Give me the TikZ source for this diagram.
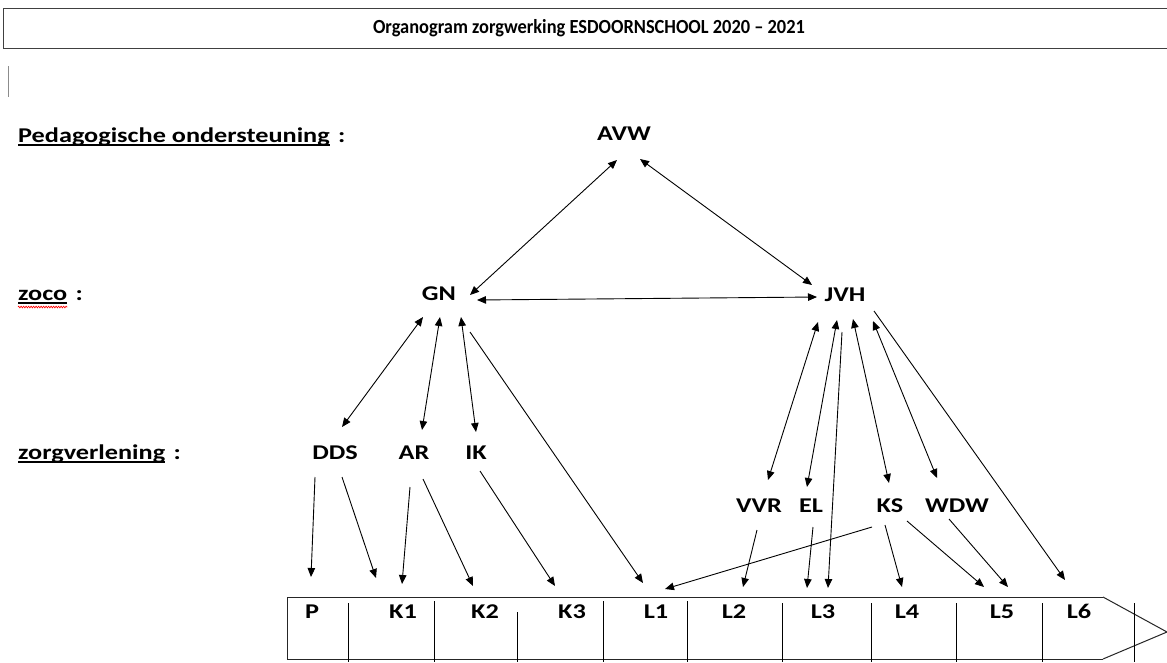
\documentclass[tikz,border=0pt]{standalone}
\usepackage{fontspec}
\setmainfont{Carlito}
\newfontfamily\lblfont[FakeStretch=1.25]{Carlito}
\newfontfamily\ttlfont[FakeStretch=0.92]{Carlito}
\usetikzlibrary{arrows.meta,calc,decorations.pathmorphing}
\begin{document}
\begin{tikzpicture}[x=1pt,y=-1pt,
  lbl/.style={font=\lblfont\fontsize{21}{24}\selectfont\bfseries, inner sep=0pt},
  who/.style={lbl, text height=13.5pt, text depth=0pt},
  ttl/.style={font=\ttlfont\fontsize{20}{24}\selectfont\bfseries, inner sep=0pt},
  con/.style={line width=0.9pt, -{Triangle[length=9pt,width=7.5pt]}},
  bicon/.style={line width=0.9pt, {Triangle[length=9pt,width=7.5pt]}-{Triangle[length=9pt,width=7.5pt]}},
  uline/.style={line width=1.1pt},
  bar/.style={line width=1pt, draw=black!85},
]
\useasboundingbox (0,0) rectangle (1167,662);
\fill[white] (0,0) rectangle (1167,662);

% title box
\draw[line width=1pt, draw=black!75] (3,8) rectangle (1180,48);
\node[ttl] (title) at (589,28) {Organogram zorgwerking ESDOORNSCHOOL 2020 – 2021};
% cursor
\draw[black!45, line width=0.8pt] (8,66) -- (8,97);

% left labels
\node[lbl, anchor=base west] (ped) at (18,142) {Pedagogische ondersteuning};
\node[lbl, anchor=base west] (pedc) at ($(ped.base east)+(8,0)$) {:};
\draw[uline] ($(ped.base west)+(0,3)$) -- ($(ped.base east)+(0,3)$);
\node[lbl, anchor=base west] (zoco) at (18,300) {zoco};
\node[lbl, anchor=base west] (zococ) at ($(zoco.base east)+(8,0)$) {:};
\draw[uline] ($(zoco.base west)+(0,3)$) -- ($(zoco.base east)+(0,3)$);
\draw[red, line width=0.6pt, decorate, decoration={zigzag, segment length=2.5pt, amplitude=0.9pt}]
  ($(zoco.base west)+(0,7)$) -- ($(zoco.base east)+(0,7)$);
\node[lbl, anchor=base west] (zv) at (18,459) {zorgverlening};
\node[lbl, anchor=base west] (zvc) at ($(zv.base east)+(8,0)$) {:};
\draw[uline] ($(zv.base west)+(0,3)$) -- ($(zv.base east)+(0,3)$);

% people
\node[who] (AVW) at (624,134) {AVW};
\node[who] (GN) at (439,294) {GN};
\node[who] (JVH) at (845,295) {JVH};
\node[who] (DDS) at (335,453) {DDS};
\node[who] (AR) at (414,453) {AR};
\node[who] (IK) at (476,453) {IK};
\node[who] (VVR) at (759,506) {VVR};
\node[who] (EL) at (811,506) {EL};
\node[who] (KS) at (890,506) {KS};
\node[who] (WDW) at (957,506) {WDW};

% bar
\draw[bar] (1103,597) -- (287,597) -- (287,659) -- (1103,659);
\draw[bar] (1103,597) -- (1167,632) -- (1103,659);
\foreach \x/\t in {348/603,434/601,517/612,603/601,687/601,782/603,871/603,956/603,1042/603,1134/603}
  \draw[line width=0.9pt] (\x,\t) -- (\x,662);

\node[who] (P) at (312,612) {P};
\node[who] (K1) at (403,612) {K1};
\node[who] (K2) at (485,612) {K2};
\node[who] (K3) at (572,612) {K3};
\node[who] (L1) at (656,612) {L1};
\node[who] (L2) at (734,612) {L2};
\node[who] (L3) at (823,612) {L3};
\node[who] (L4) at (907,612) {L4};
\node[who] (L5) at (1002,612) {L5};
\node[who] (L6) at (1079,612) {L6};

% connectors
\draw[bicon] ($(AVW)+(-7,26)$) -- ($(GN)+(31,1)$);
\draw[bicon] ($(AVW)+(16,25)$) -- ($(JVH)+(-33,-10)$);
\draw[bicon] ($(GN)+(38,6)$) -- ($(JVH)+(-28,2)$);
\draw[bicon] ($(GN)+(-16,23)$) -- ($(DDS)+(7,-26)$);
\draw[bicon] ($(GN)+(1,23)$) -- ($(AR)+(8,-23)$);
\draw[bicon] ($(GN)+(22,23)$) -- ($(IK)+(0,-21)$);
\draw[con] ($(GN)+(31,38)$) -- ($(L1)+(-13,-29)$);
\draw[bicon] ($(JVH)+(-27,27)$) -- ($(VVR)+(9,-26)$);
\draw[bicon] ($(JVH)+(-8,25)$) -- ($(EL)+(-4,-19)$);
\draw[bicon] ($(JVH)+(8,24)$) -- ($(KS)+(-1,-23)$);
\draw[bicon] ($(JVH)+(28,26)$) -- ($(WDW)+(-20,-28)$);
\draw[con] ($(JVH)+(-3,37)$) -- ($(L3)+(5,-24)$);
\draw[con] ($(JVH)+(29,16)$) -- ($(L6)+(-14,-32)$);
\draw[con] ($(DDS)+(-20,24)$) -- ($(P)+(-1,-35)$);
\draw[con] ($(DDS)+(7,24)$) -- ($(K1)+(-27,-34)$);
\draw[con] ($(AR)+(-4,34)$) -- ($(K1)+(-1,-28)$);
\draw[con] ($(AR)+(9,26)$) -- ($(K2)+(-12,-26)$);
\draw[con] ($(IK)+(4,18)$) -- ($(K3)+(-17,-26)$);
\draw[con] ($(KS)+(-18,21)$) -- ($(L1)+(9,-23)$);
\draw[con] ($(VVR)+(-2,24)$) -- ($(L2)+(9,-25)$);
\draw[con] ($(EL)+(2,21)$) -- ($(L3)+(-16,-24)$);
\draw[con] ($(KS)+(-5,19)$) -- ($(L4)+(-5,-25)$);
\draw[con] ($(KS)+(17,15)$) -- ($(L5)+(-18,-25)$);
\draw[con] ($(WDW)+(-8,13)$) -- ($(L5)+(6,-25)$);
\end{tikzpicture}
\end{document}
